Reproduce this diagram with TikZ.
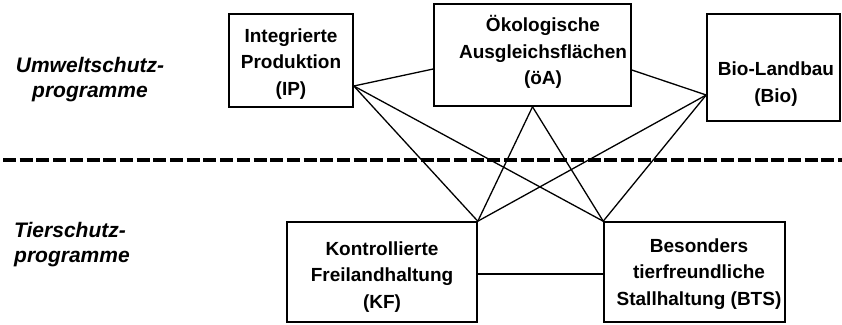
\documentclass[tikz,border=0pt]{standalone}
\usepackage{fontspec}
\setmainfont{Liberation Sans}
\usetikzlibrary{calc}
\begin{document}
\begin{tikzpicture}[x=1pt,y=-1pt,
  box/.style={draw,line width=1.6pt,inner sep=0pt},
  boxtext/.style={align=center,font=\bfseries\fontsize{19}{26.5}\selectfont,inner sep=0pt},
  side/.style={font=\bfseries\itshape\fontsize{21}{25}\selectfont,inner sep=0pt},
  link/.style={line width=1.3pt},
  divider/.style={line width=3.5pt,dash pattern=on 13pt off 3.7pt}]
\useasboundingbox (0,0) rectangle (842,324);
% boxes
\node[box,minimum width=124pt,minimum height=93pt] (IP) at (291,60.5) {};
\node[boxtext] (IPt) at (291,64) {Integrierte\\Produktion\\(IP)};
\node[box,minimum width=197pt,minimum height=102pt] (OA) at (532.5,55) {};
\node[boxtext] (OAt) at (543,52) {Ökologische\\Ausgleichsflächen\\(öA)};
\node[box,minimum width=133pt,minimum height=107pt] (Bio) at (773.5,67.5) {};
\node[boxtext] (Biot) at (776,84) {Bio-Landbau\\(Bio)};
\node[box,minimum width=190pt,minimum height=100pt] (KF) at (382,272) {};
\node[boxtext] (KFt) at (382,277) {Kontrollierte\\Freilandhaltung\\(KF)};
\node[box,minimum width=181pt,minimum height=100pt] (BTS) at (694.5,272) {};
\node[boxtext] (BTSt) at (699,274) {Besonders\\tierfreundliche\\Stallhaltung (BTS)};
% side labels
\node[side,align=center] (U) at (90,80) {Umweltschutz-\\programme};
\node[side,align=left,anchor=west] (T) at (14,245) {Tierschutz-\\programme};
% divider
\coordinate (dL) at (3,160);
\coordinate (dR) at (842,160);
\draw[divider] (dL) -- (dR);
% attachment points
\coordinate (ipR) at ([yshift=-25.5pt]IP.east);
\coordinate (oaL) at ([yshift=-14pt]OA.west);
\coordinate (oaR) at ([yshift=-15pt]OA.east);
\coordinate (oaB) at (OA.south);
\coordinate (bioL) at ([yshift=-27.5pt]Bio.west);
\coordinate (kfC) at (KF.north east);
\coordinate (btsC) at (BTS.north west);
% connectors
\draw[link] (ipR) -- (oaL);
\draw[link] (ipR) -- (kfC);
\draw[link] (ipR) -- (btsC);
\draw[link] (oaB) -- (kfC);
\draw[link] (oaB) -- (btsC);
\draw[link] (oaR) -- (bioL);
\draw[link] (bioL) -- (kfC);
\draw[link] (bioL) -- (btsC);
\draw[link] ([yshift=-2pt]KF.east) -- ([yshift=-2pt]BTS.west);
\end{tikzpicture}
\end{document}
